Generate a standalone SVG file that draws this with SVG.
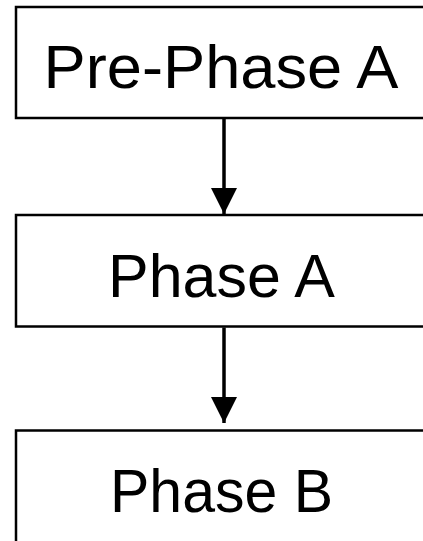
<svg xmlns="http://www.w3.org/2000/svg" width="423" height="541" viewBox="0 0 423 541">
  <style>
    .box { fill: #ffffff; stroke: #000000; stroke-width: 2.5; }
    .label { font-family: "Liberation Sans", "DejaVu Sans", sans-serif; font-size: 62px; fill: #000000; text-anchor: middle; }
    .edge { stroke: #000000; stroke-width: 3.5; fill: none; }
  </style>
  <defs>
    <marker id="head" markerUnits="userSpaceOnUse" markerWidth="26" markerHeight="26" viewBox="0 0 26 26" refX="26" refY="13" orient="auto">
      <path d="M0,0 L26,13 L0,26 Z" fill="#000000"/>
    </marker>
  </defs>
  <rect width="423" height="541" fill="#ffffff"/>

  <g id="pre-phase-a">
    <rect class="box" x="16" y="7" width="420" height="111"/>
    <text class="label" x="221" y="88" textLength="355" lengthAdjust="spacingAndGlyphs">Pre-Phase A</text>
  </g>

  <g id="phase-a">
    <rect class="box" x="16" y="215" width="420" height="111.5"/>
    <text class="label" x="221.5" y="297" textLength="227" lengthAdjust="spacingAndGlyphs">Phase A</text>
  </g>

  <g id="phase-b">
    <rect class="box" x="16" y="430.5" width="420" height="120"/>
    <text class="label" x="221.5" y="512" textLength="223" lengthAdjust="spacingAndGlyphs">Phase B</text>
  </g>

  <g id="connectors">
    <line class="edge" x1="224" y1="119" x2="224" y2="214" marker-end="url(#head)"/>
    <line class="edge" x1="224" y1="327.5" x2="224" y2="423" marker-end="url(#head)"/>
  </g>
</svg>
